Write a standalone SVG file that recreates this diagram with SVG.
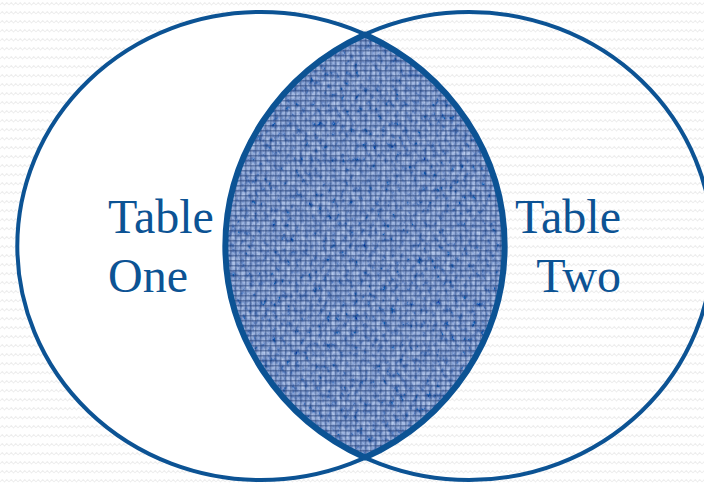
<svg xmlns="http://www.w3.org/2000/svg" width="704" height="485" viewBox="0 0 704 485">
  <style>
    .ring { fill: none; stroke: #0c5394; stroke-width: 4; }
    .lens-edge { fill: none; stroke: #0c5394; stroke-width: 6; stroke-linejoin: round; }
    .label { font-family: "Liberation Serif", "DejaVu Serif", serif; font-size: 48px; fill: #0c5394; }
  </style>
  <defs>
    <pattern id="zigzag" width="9" height="9" patternUnits="userSpaceOnUse">
      <path d="M0,5 L2.25,2.5 L4.5,5 L6.75,2.5 L9,5" fill="none" stroke="#eeeeee" stroke-width="1.1"/>
    </pattern>
    <pattern id="weave" width="5" height="5" patternUnits="userSpaceOnUse">
      <rect x="0" y="0" width="5" height="1.5" fill="#1a3570" opacity="0.45"/>
      <rect x="0" y="0" width="1.5" height="5" fill="#1a3570" opacity="0.35"/>
      <rect x="2.5" y="2.5" width="1.5" height="1.5" fill="#a9c2f0" opacity="0.5"/>
    </pattern>
    <filter id="noise" x="0" y="0" width="1" height="1" filterUnits="objectBoundingBox">
      <feTurbulence type="fractalNoise" baseFrequency="0.22 0.14" numOctaves="3" seed="7"/>
      <feColorMatrix type="matrix" values="1.0 0 0 0 -0.2  1.0 0 0 0 -0.08  0.8 0 0 0 0.3  0 0 0 0 1"/>
    </filter>
    <path id="lensPath" d="M365,34.4 A243.7,234 0 0,1 365,457.6 A243.7,234 0 0,1 365,34.4 Z"/>
    <clipPath id="lensClip">
      <use href="#lensPath"/>
    </clipPath>
  </defs>

  <rect x="0" y="0" width="704" height="485" fill="#ffffff"/>
  <rect x="0" y="0" width="704" height="485" fill="url(#zigzag)"/>

  <g id="table-one">
    <ellipse cx="261" cy="246" rx="243.7" ry="234" fill="#ffffff"/>
    <ellipse class="ring" cx="261" cy="246" rx="243.7" ry="234"/>
    <text class="label" x="108" y="233">Table</text>
    <text class="label" x="108" y="292">One</text>
  </g>

  <g id="table-two">
    <ellipse class="ring" cx="469" cy="246" rx="243.7" ry="234"/>
    <text class="label" x="621" y="233" text-anchor="end">Table</text>
    <text class="label" x="621" y="292" text-anchor="end">Two</text>
  </g>

  <g id="intersection">
    <g clip-path="url(#lensClip)">
      <rect x="220" y="30" width="290" height="432" fill="#4c6aa8"/>
      <rect x="220" y="30" width="290" height="432" filter="url(#noise)" opacity="0.8"/>
      <rect x="220" y="30" width="290" height="432" fill="url(#weave)"/>
    </g>
    <use href="#lensPath" class="lens-edge"/>
  </g>
</svg>
